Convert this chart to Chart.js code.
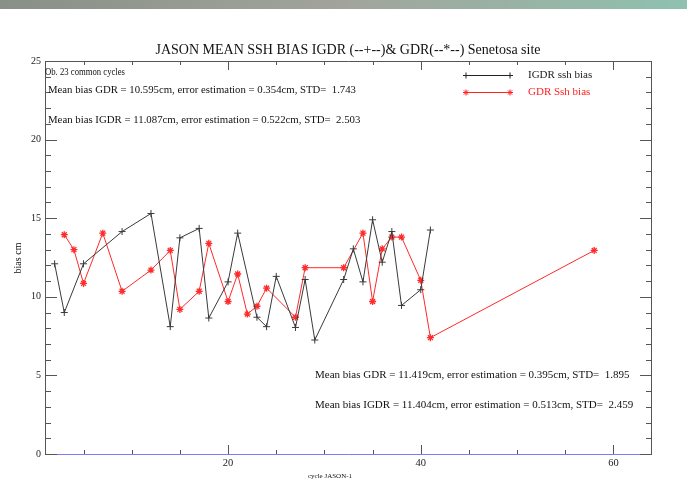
<!DOCTYPE html>
<html>
<head>
<meta charset="utf-8">
<script src="https://cdn.jsdelivr.net/npm/chart.js@4"></script>
<style>
  body { margin: 0; background: #fff; }
  #wrap { width: 687px; height: 481px; }
</style>
</head>
<body>
<div id="wrap"><canvas id="biasChart" width="687" height="481"></canvas></div>
<script>
// IGDR ssh bias (black, +)
const igdrCycles = [2, 3, 5, 9, 12, 14, 15, 17, 18, 20, 21, 23, 24, 25, 27, 28, 29, 32, 33, 34, 35, 36, 37, 38, 40, 41];
const igdrBias = [12.1, 9.0, 12.1, 14.15, 15.3, 8.1, 13.75, 14.35, 8.65, 10.95, 14.05, 8.7, 8.1, 11.3, 8.05, 11.1, 7.25, 11.1, 13.05, 10.95, 14.9, 12.2, 14.15, 9.45, 10.45, 14.25];

// GDR ssh bias (red, *)
const gdrCycles = [3, 4, 5, 7, 9, 12, 14, 15, 17, 18, 20, 21, 22, 23, 24, 27, 28, 32, 34, 35, 36, 37, 38, 40, 41, 58];
const gdrBias = [13.95, 13.0, 10.85, 14.05, 10.35, 11.7, 12.95, 9.2, 10.35, 13.4, 9.7, 11.45, 8.9, 9.4, 10.55, 8.7, 11.85, 11.85, 14.05, 9.7, 13.05, 13.8, 13.8, 11.05, 7.4, 12.95];

const xTickLabels = [20, 40, 60];
const yTickLabels = [0, 5, 10, 15, 20, 25];

const titleText = 'JASON MEAN SSH BIAS IGDR (--+--)& GDR(--*--) Senetosa site';
const topNotes = [
    'Ob. 23 common cycles',
    'Mean bias GDR = 10.595cm, error estimation = 0.354cm, STD=  1.743',
    'Mean bias IGDR = 11.087cm, error estimation = 0.522cm, STD=  2.503'
];
const bottomNotes = [
    'Mean bias GDR = 11.419cm, error estimation = 0.395cm, STD=  1.895',
    'Mean bias IGDR = 11.404cm, error estimation = 0.513cm, STD=  2.459'
];

const SERIF = '"Liberation Serif", "DejaVu Serif", serif';

// fond, bandeau, cadre, ticks internes et textes
const decor = {
    id: 'decor',
    beforeDraw(chart) {
        const c = chart.ctx;
        c.save();
        c.fillStyle = '#fff';
        c.fillRect(0, 0, chart.width, chart.height);
        const g = c.createLinearGradient(0, 0, chart.width, 0);
        g.addColorStop(0, '#899087');
        g.addColorStop(0.5, '#a2a49b');
        g.addColorStop(1, '#8fc1b0');
        c.fillStyle = g;
        c.fillRect(0, 0, chart.width, 9);
        c.restore();
    },
    afterDraw(chart) {
        const c = chart.ctx;
        const a = chart.chartArea;
        const x = chart.scales.x, y = chart.scales.y;
        c.save();
        c.lineWidth = 1;

        // frame
        c.strokeStyle = '#555';
        c.beginPath();
        c.moveTo(a.left + 0.5, a.bottom); c.lineTo(a.left + 0.5, a.top + 0.5);
        c.lineTo(a.right - 0.5, a.top + 0.5); c.lineTo(a.right - 0.5, a.bottom);
        c.stroke();
        c.strokeStyle = '#7b7bff';
        c.beginPath();
        c.moveTo(a.left, a.bottom + 0.5); c.lineTo(a.right, a.bottom + 0.5);
        c.stroke();

        // y ticks, left and right
        c.strokeStyle = '#555';
        c.beginPath();
        for (let v = 0; v <= 25; v++) {
            const py = Math.round(y.getPixelForValue(v)) + 0.5;
            const len = v % 5 === 0 ? 12 : 6;
            c.moveTo(a.left, py); c.lineTo(a.left + len, py);
            c.moveTo(a.right, py); c.lineTo(a.right - len, py);
        }
        // x ticks, bottom and top
        for (let v = 5; v <= 60; v += 5) {
            const px = Math.round(x.getPixelForValue(v)) + 0.5;
            const len = v % 20 === 0 ? 9 : 4;
            c.moveTo(px, a.bottom); c.lineTo(px, a.bottom - len);
            c.moveTo(px, a.top); c.lineTo(px, a.top + len);
        }
        c.stroke();

        // title
        c.fillStyle = '#111';
        c.textBaseline = 'middle';
        c.textAlign = 'center';
        c.font = '14px ' + SERIF;
        c.fillText(titleText, 348, 50, 388);

        // axis titles
        c.font = '7px ' + SERIF;
        c.fillText('cycle JASON-1', 330, 476);
        c.save();
        c.translate(18, 258);
        c.rotate(-Math.PI / 2);
        c.font = '10px ' + SERIF;
        c.fillText('bias cm', 0, 0);
        c.restore();

        // notes
        c.textAlign = 'left';
        c.font = '9.5px ' + SERIF;
        c.fillText(topNotes[0], 45, 72, 80);
        c.font = '10.8px ' + SERIF;
        c.fillText(topNotes[1], 48, 90, 308);
        c.fillText(topNotes[2], 48, 120, 313);
        c.font = '11px ' + SERIF;
        c.fillText(bottomNotes[0], 315, 375, 318);
        c.fillText(bottomNotes[1], 315, 405, 325);

        // legend
        const legend = [
            { label: 'IGDR ssh bias', color: '#222', style: 'cross', yPos: 75 },
            { label: 'GDR Ssh bias', color: '#ff2020', style: 'star', yPos: 92 }
        ];
        legend.forEach(item => {
            c.strokeStyle = item.color;
            c.fillStyle = item.color;
            c.beginPath();
            c.moveTo(466, item.yPos + 0.5); c.lineTo(510, item.yPos + 0.5);
            c.stroke();
            [466, 510].forEach(px => {
                Chart.helpers.drawPoint(c, { pointStyle: item.style, radius: 3, borderWidth: 1 }, px, item.yPos + 0.5);
            });
            c.font = '11px ' + SERIF;
            c.fillText(item.label, 528, item.yPos, 66);
        });

        c.restore();
    }
};

const ctx = document.getElementById('biasChart').getContext('2d');
new Chart(ctx, {
    type: 'scatter',
    data: {
        datasets: [
            {
                label: 'IGDR ssh bias',
                data: igdrCycles.map((cy, i) => ({ x: cy, y: igdrBias[i] })),
                showLine: true,
                borderColor: '#3a3a3a',
                backgroundColor: '#3a3a3a',
                borderWidth: 1,
                pointStyle: 'cross',
                pointRadius: 3.5,
                pointBorderWidth: 1
            },
            {
                label: 'GDR Ssh bias',
                data: gdrCycles.map((cy, i) => ({ x: cy, y: gdrBias[i] })),
                showLine: true,
                borderColor: '#ff2a2a',
                backgroundColor: '#ff2a2a',
                borderWidth: 1,
                pointStyle: 'star',
                pointRadius: 3.5,
                pointBorderWidth: 1.3
            }
        ]
    },
    options: {
        responsive: false,
        animation: false,
        events: [],
        layout: { padding: { top: 61, right: 35, left: 0, bottom: 0 } },
        scales: {
            x: {
                type: 'linear',
                min: 1,
                max: 64,
                afterFit: s => { s.height = 27; },
                afterBuildTicks: s => { s.ticks = xTickLabels.map(v => ({ value: v })); },
                grid: { display: false, drawTicks: false },
                border: { display: false },
                ticks: {
                    padding: 3,
                    maxRotation: 0,
                    autoSkip: false,
                    color: '#222',
                    font: { family: SERIF, size: 10.5 }
                }
            },
            y: {
                min: 0,
                max: 25,
                afterFit: s => { s.width = 45; },
                afterBuildTicks: s => { s.ticks = yTickLabels.map(v => ({ value: v })); },
                grid: { display: false, drawTicks: false },
                border: { display: false },
                ticks: {
                    padding: 4,
                    autoSkip: false,
                    color: '#222',
                    font: { family: SERIF, size: 10 }
                }
            }
        },
        plugins: {
            legend: { display: false },
            tooltip: { enabled: false }
        }
    },
    plugins: [decor]
});
</script>
</body>
</html>
